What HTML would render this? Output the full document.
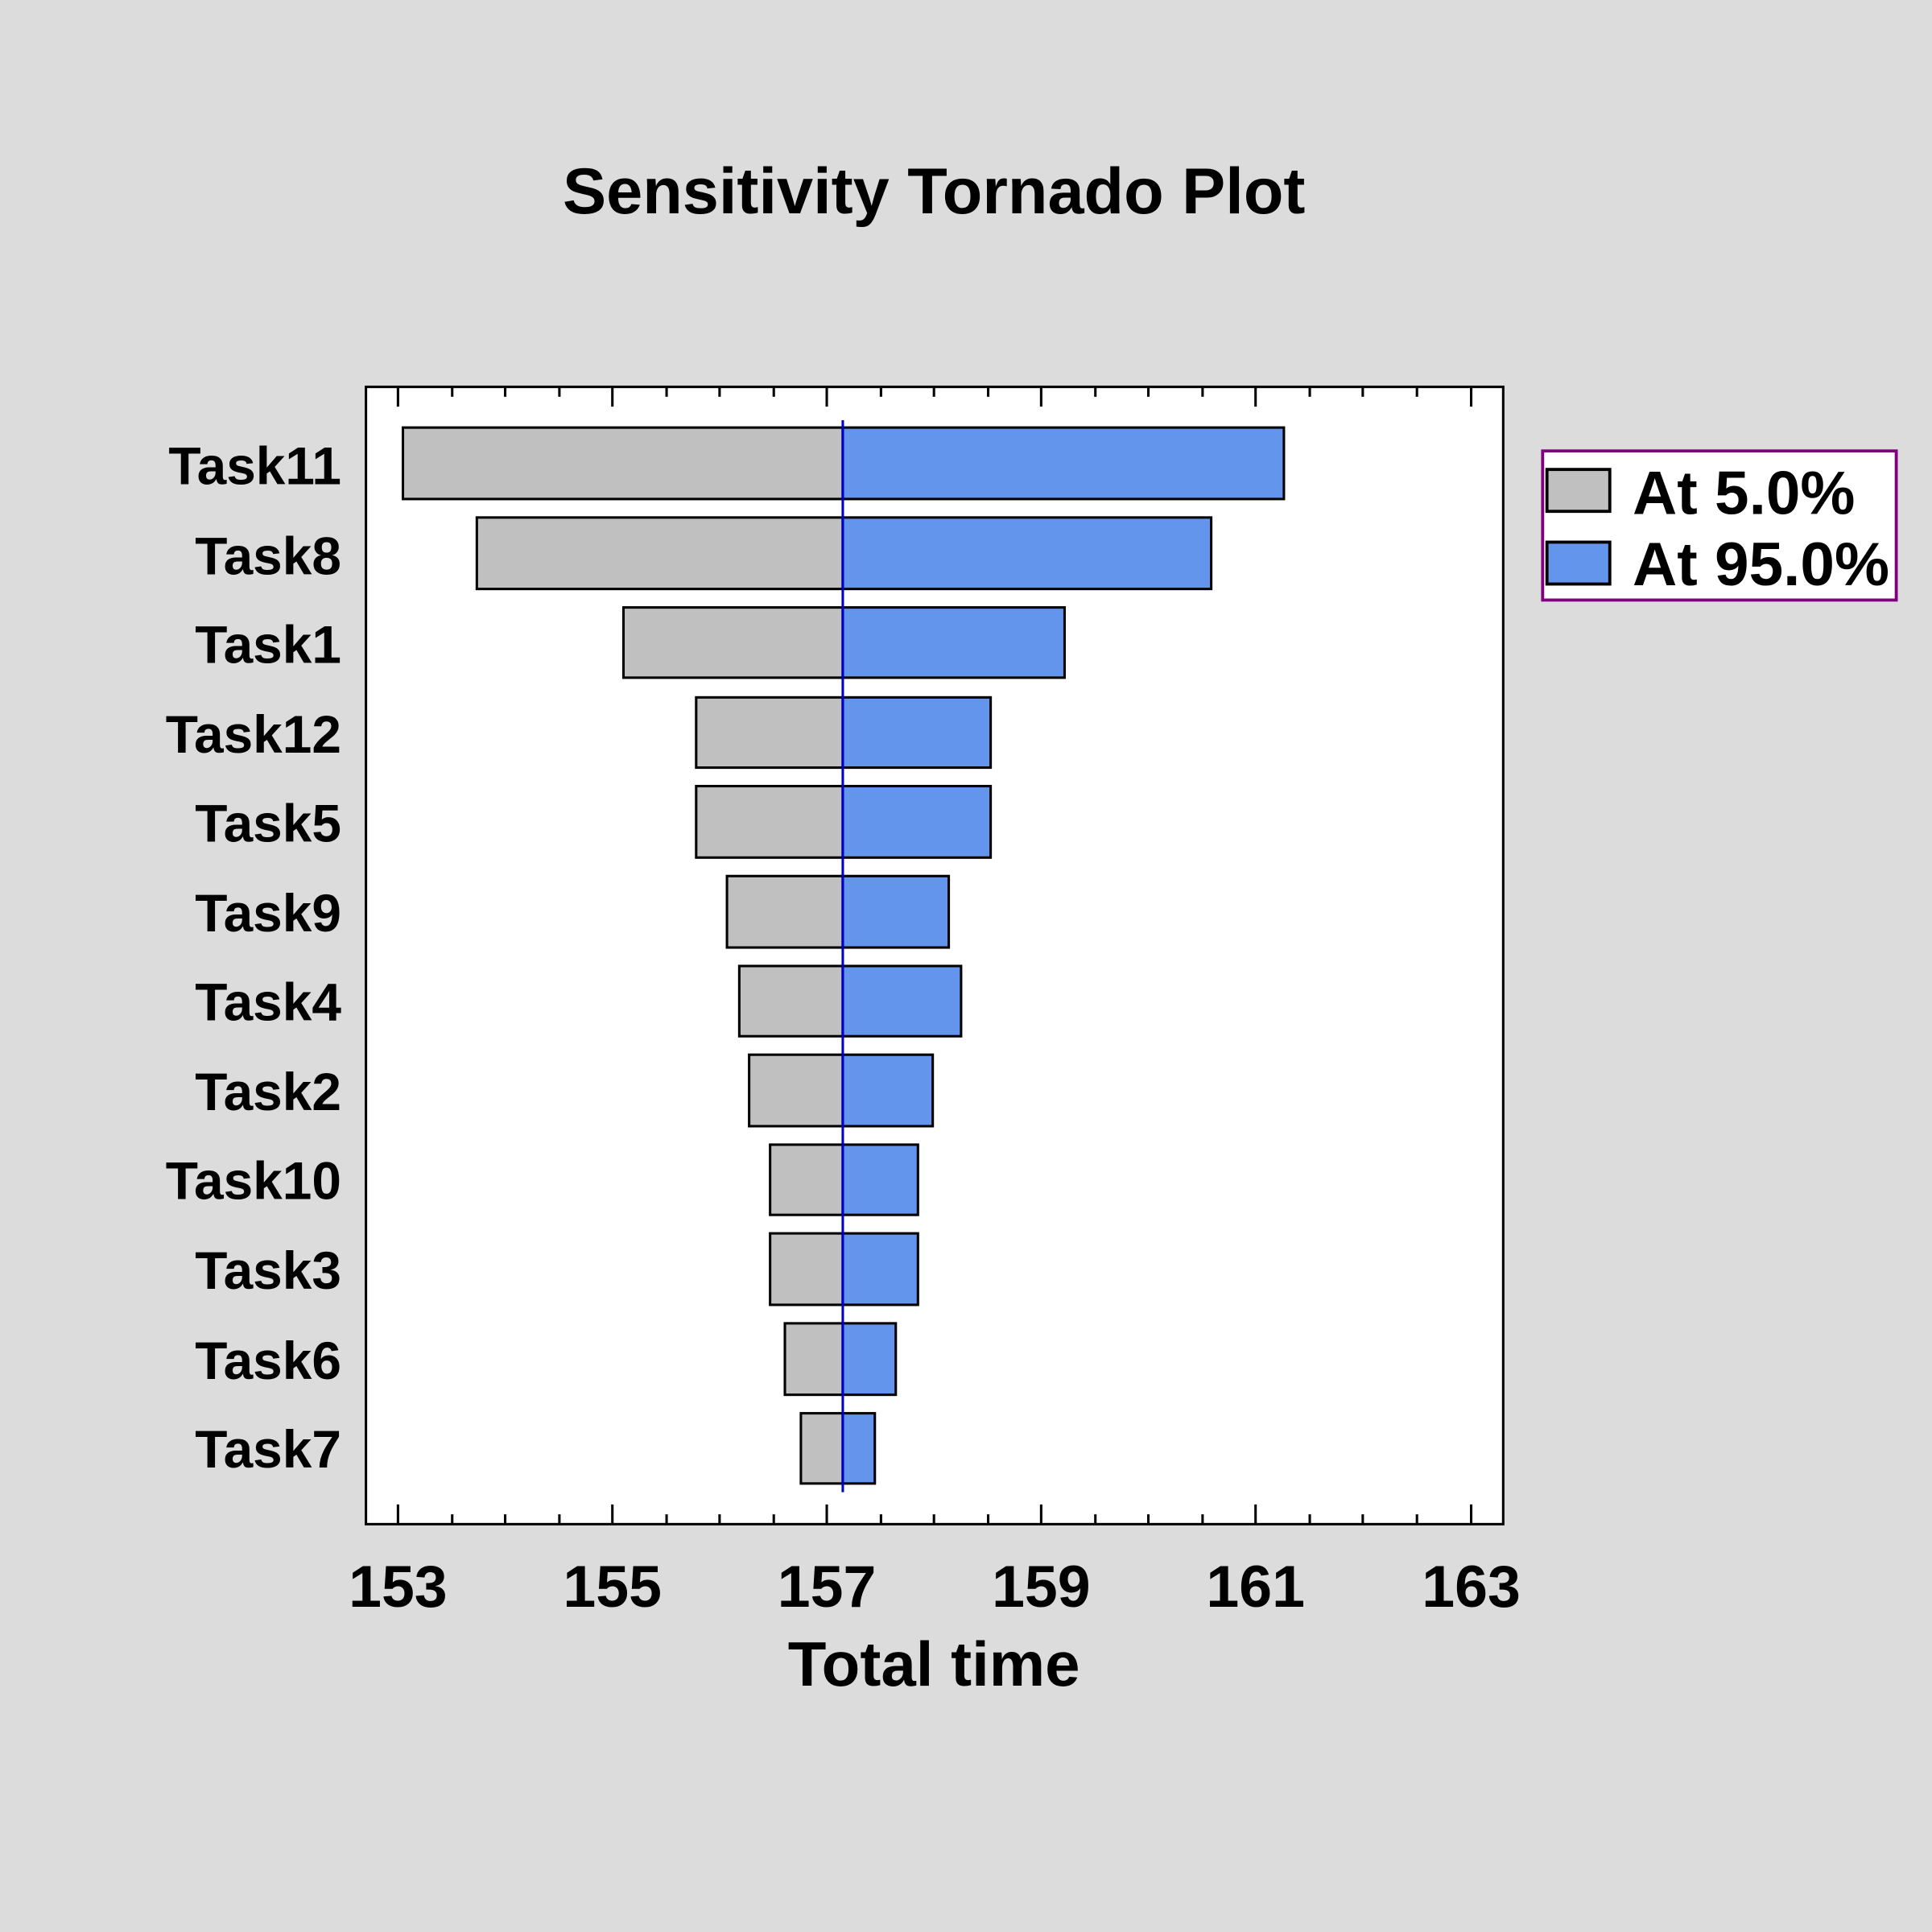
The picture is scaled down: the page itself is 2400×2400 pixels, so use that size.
<!DOCTYPE html>
<html><head><style>html,body{margin:0;padding:0;background:#dcdcdc}svg{display:block}</style></head>
<body>
<svg width="2400" height="2400" viewBox="0 0 1568 1568" xmlns="http://www.w3.org/2000/svg" font-family="'Liberation Sans', Arial, sans-serif" font-weight="bold">
<rect width="1568" height="1568" fill="#dcdcdc"/>
<text x="758" y="173" font-size="53" text-anchor="middle">Sensitivity Tornado Plot</text>
<rect x="297" y="314" width="923" height="923" fill="#fff" stroke="#000" stroke-width="2"/>
<g stroke="#000" stroke-width="2">
<path d="M323 314v16M367 314v8M410 314v8M454 314v8M497 314v16M541 314v8M584 314v8M628 314v8M671 314v16M715 314v8M758 314v8M802 314v8M845 314v16M889 314v8M932 314v8M976 314v8M1019 314v16M1063 314v8M1106 314v8M1150 314v8M1194 314v16"/>
<path d="M323 1237v-16M367 1237v-8M410 1237v-8M454 1237v-8M497 1237v-16M541 1237v-8M584 1237v-8M628 1237v-8M671 1237v-16M715 1237v-8M758 1237v-8M802 1237v-8M845 1237v-16M889 1237v-8M932 1237v-8M976 1237v-8M1019 1237v-16M1063 1237v-8M1106 1237v-8M1150 1237v-8M1194 1237v-16"/>
</g>
<g stroke="#000" stroke-width="2">
<rect x="327" y="347" width="357" height="58" fill="#c0c0c0"/><rect x="684" y="347" width="358" height="58" fill="#6495ed"/>
<rect x="387" y="420" width="297" height="58" fill="#c0c0c0"/><rect x="684" y="420" width="299" height="58" fill="#6495ed"/>
<rect x="506" y="493" width="178" height="57" fill="#c0c0c0"/><rect x="684" y="493" width="180" height="57" fill="#6495ed"/>
<rect x="565" y="566" width="119" height="57" fill="#c0c0c0"/><rect x="684" y="566" width="120" height="57" fill="#6495ed"/>
<rect x="565" y="638" width="119" height="58" fill="#c0c0c0"/><rect x="684" y="638" width="120" height="58" fill="#6495ed"/>
<rect x="590" y="711" width="94" height="58" fill="#c0c0c0"/><rect x="684" y="711" width="86" height="58" fill="#6495ed"/>
<rect x="600" y="784" width="84" height="57" fill="#c0c0c0"/><rect x="684" y="784" width="96" height="57" fill="#6495ed"/>
<rect x="608" y="856" width="76" height="58" fill="#c0c0c0"/><rect x="684" y="856" width="73" height="58" fill="#6495ed"/>
<rect x="625" y="929" width="59" height="57" fill="#c0c0c0"/><rect x="684" y="929" width="61" height="57" fill="#6495ed"/>
<rect x="625" y="1001" width="59" height="58" fill="#c0c0c0"/><rect x="684" y="1001" width="61" height="58" fill="#6495ed"/>
<rect x="637" y="1074" width="47" height="58" fill="#c0c0c0"/><rect x="684" y="1074" width="43" height="58" fill="#6495ed"/>
<rect x="650" y="1147" width="34" height="57" fill="#c0c0c0"/><rect x="684" y="1147" width="26" height="57" fill="#6495ed"/>
</g>
<line x1="684" y1="341" x2="684" y2="1211" stroke="#0000cd" stroke-width="2"/>
<g font-size="43" text-anchor="end">
<text x="277" y="393">Task11</text><text x="277" y="466">Task8</text><text x="277" y="538">Task1</text>
<text x="277" y="611">Task12</text><text x="277" y="683">Task5</text><text x="277" y="756">Task9</text>
<text x="277" y="828">Task4</text><text x="277" y="901">Task2</text><text x="277" y="973">Task10</text>
<text x="277" y="1046">Task3</text><text x="277" y="1119">Task6</text><text x="277" y="1191">Task7</text>
</g>
<g font-size="48" text-anchor="middle">
<text x="323" y="1304">153</text><text x="497" y="1304">155</text><text x="671" y="1304">157</text>
<text x="845" y="1304">159</text><text x="1019" y="1304">161</text><text x="1194" y="1304">163</text>
</g>
<text x="758" y="1368" font-size="51" text-anchor="middle">Total time</text>
<rect x="1252" y="366" width="287" height="121" fill="#fff" stroke="#800080" stroke-width="2.5"/>
<rect x="1255.5" y="381" width="51" height="34" fill="#c0c0c0" stroke="#000" stroke-width="2.5"/>
<rect x="1255.5" y="440" width="51" height="34" fill="#6495ed" stroke="#000" stroke-width="2.5"/>
<text x="1325" y="417" font-size="50">At 5.0%</text>
<text x="1325" y="475" font-size="50">At 95.0%</text>
</svg>
</body></html>
